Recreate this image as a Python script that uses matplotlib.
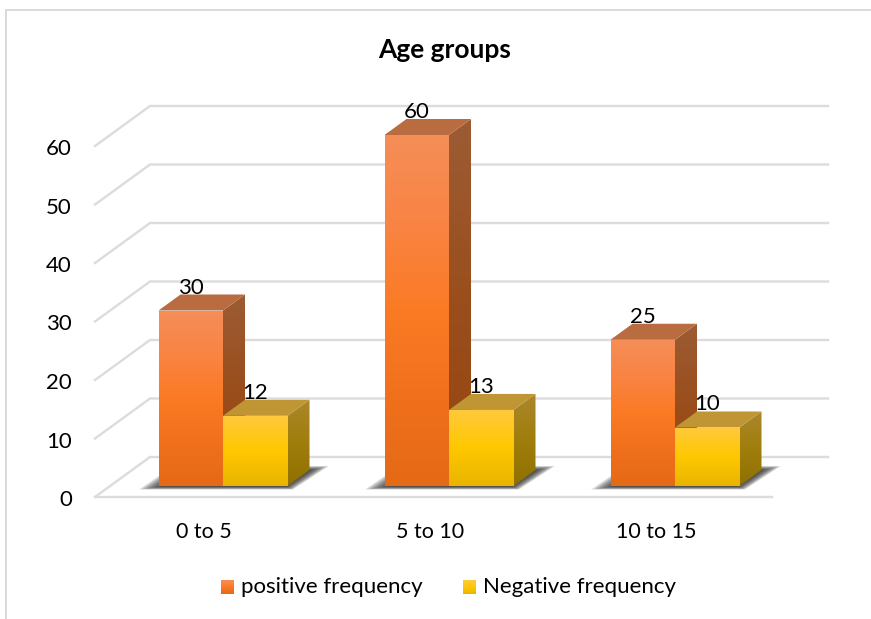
import matplotlib
matplotlib.use("Agg")
import matplotlib.pyplot as plt
import numpy as np
from matplotlib.colors import LinearSegmentedColormap
from matplotlib.patches import Polygon

categories = ["0 to 5", "5 to 10", "10 to 15"]
positive = [30, 60, 25]
negative = [12, 13, 10]
y_ticks = [0, 10, 20, 30, 40, 50, 60]

plt.rcParams["font.family"] = ["Lato", "DejaVu Sans"]

# scale of the value axis and category axis, in pixels per unit
W, H = 871, 619
PX_X = 226.0
PX_Y = 5.85
BAR_W = 64.5 / PX_X
DX = 22 / PX_X
DY = 16 / PX_Y
TEXT_SHIFT = 3 / PX_Y  # Lato sits a little high with va="center"


def vert_cmap(colors):
    # colours are listed from the top of the face to the bottom
    return LinearSegmentedColormap.from_list("face", colors[::-1])


ORANGE_FRONT = vert_cmap(["#F58E58", "#F98444", "#FB7A24", "#F0701C", "#E56A16"])
ORANGE_SIDE = vert_cmap(["#9C5C34", "#9A4E1C", "#95460F"])
YELLOW_FRONT = vert_cmap(["#FFC93E", "#FFC800", "#E9B400"])
YELLOW_SIDE = vert_cmap(["#AB872C", "#A07E0C", "#8F7000"])
GRAD = np.linspace(0, 1, 256).reshape(-1, 1)


def gradient_poly(ax, pts, cmap, z):
    pts = np.array(pts)
    extent = (pts[:, 0].min(), pts[:, 0].max(), pts[:, 1].min(), pts[:, 1].max())
    im = ax.imshow(GRAD, cmap=cmap, origin="lower", extent=extent, aspect="auto",
                   zorder=z, interpolation="bilinear")
    clip = Polygon(pts, closed=True, transform=ax.transData)
    im.set_clip_path(clip)


def draw_bar(ax, x0, value, front, side, top_color, z):
    x1 = x0 + BAR_W
    gradient_poly(ax, [(x1, 0), (x1 + DX, DY), (x1 + DX, value + DY), (x1, value)], side, z)
    ax.add_patch(Polygon([(x0, value), (x1, value), (x1 + DX, value + DY), (x0 + DX, value + DY)],
                         closed=True, fc=top_color, ec="none", zorder=z))
    gradient_poly(ax, [(x0, 0), (x1, 0), (x1, value), (x0, value)], front, z + 0.1)


def draw_shadow(ax, center):
    # soft floor shadow built up from stacked translucent outlines, offsets in pixels
    outer = np.array([(-84, -3.5), (70, -3.5), (106, 20), (-50, 20)], dtype=float)
    inner = np.array([(-58, 0), (62, 0), (84, 15), (-36, 15)], dtype=float)
    for t in np.linspace(0, 1, 14):
        pts = outer + (inner - outer) * t
        pts = np.column_stack([center + pts[:, 0] / PX_X, pts[:, 1] / PX_Y])
        ax.add_patch(Polygon(pts, closed=True, fc="#2A2A2A", ec="none", alpha=0.13, zorder=2))


fig = plt.figure(figsize=(W / 100, H / 100), dpi=100, facecolor="white")
ax = fig.add_axes([0, 0, 1, 1])
ax.set_xlim((0 - 223) / PX_X, (W - 223) / PX_X)
ax.set_ylim((486 - H) / PX_Y, 486 / PX_Y)
ax.axis("off")

# frame around the chart area, left and top edges only
ax.plot([(6 - 223) / PX_X, (6 - 223) / PX_X], [(486 - H) / PX_Y, (486 - 10) / PX_Y],
        color="#D9D9D9", lw=1.4, zorder=1)
ax.plot([(6 - 223) / PX_X, (W - 223) / PX_X], [(486 - 10) / PX_Y, (486 - 10) / PX_Y],
        color="#D9D9D9", lw=1.4, zorder=1)

# walls and floor
floor_front = -11 / PX_Y
wall_base = 29 / PX_Y
wall_left = (150 - 223) / PX_X
front_left = (95 - 223) / PX_X
wall_right = (828 - 223) / PX_X
front_right = (772 - 223) / PX_X
grid_color = "#DCDCDC"
for tick in y_ticks:
    back = wall_base + tick
    front = floor_front + tick
    ax.plot([front_left, wall_left, wall_right], [front, back, back],
            color=grid_color, lw=1.7, zorder=1, solid_joinstyle="miter")
    ax.text(front_left - 23 / PX_X, front - TEXT_SHIFT, str(tick), ha="right", va="center",
            fontsize=16, color="black", zorder=5)
ax.plot([front_left, front_right], [floor_front, floor_front],
        color=grid_color, lw=1.7, zorder=1)

for i, name in enumerate(categories):
    left = i - BAR_W
    draw_shadow(ax, i)
    draw_bar(ax, left, positive[i], ORANGE_FRONT, ORANGE_SIDE, "#B96C40", 3)
    draw_bar(ax, i, negative[i], YELLOW_FRONT, YELLOW_SIDE, "#BF9633", 3.5)
    ax.text(left + BAR_W / 2, positive[i] + 26 / PX_Y - TEXT_SHIFT, str(positive[i]), ha="center",
            va="center", fontsize=16, color="black", zorder=6)
    ax.text(i + BAR_W / 2, negative[i] + 26 / PX_Y - TEXT_SHIFT, str(negative[i]), ha="center",
            va="center", fontsize=16, color="black", zorder=6)
    ax.text(i - 19 / PX_X, -44 / PX_Y - TEXT_SHIFT / 2, name, ha="center", va="center", fontsize=15.5,
            color="black", zorder=5)

ax.text((445 - 223) / PX_X, (486 - 50) / PX_Y, "Age groups", ha="center", va="center",
        fontsize=19, fontweight="bold", color="black")

# legend swatches and labels
swatch_h = 14 / PX_Y
swatch_y = (486 - 594) / PX_Y
for px, cmap, label in [(221, ORANGE_FRONT, "positive frequency"),
                        (463, YELLOW_FRONT, "Negative frequency")]:
    x0 = (px - 223) / PX_X
    x1 = (px + 13 - 223) / PX_X
    gradient_poly(ax, [(x0, swatch_y), (x1, swatch_y), (x1, swatch_y + swatch_h), (x0, swatch_y + swatch_h)],
                  cmap, 5)
    ax.text((px + 20 - 223) / PX_X, swatch_y + swatch_h / 2, label, ha="left", va="center",
            fontsize=16, color="black")

ax.set_xlim((0 - 223) / PX_X, (W - 223) / PX_X)
ax.set_ylim((486 - H) / PX_Y, 486 / PX_Y)
fig.savefig("out.png", dpi=100)
